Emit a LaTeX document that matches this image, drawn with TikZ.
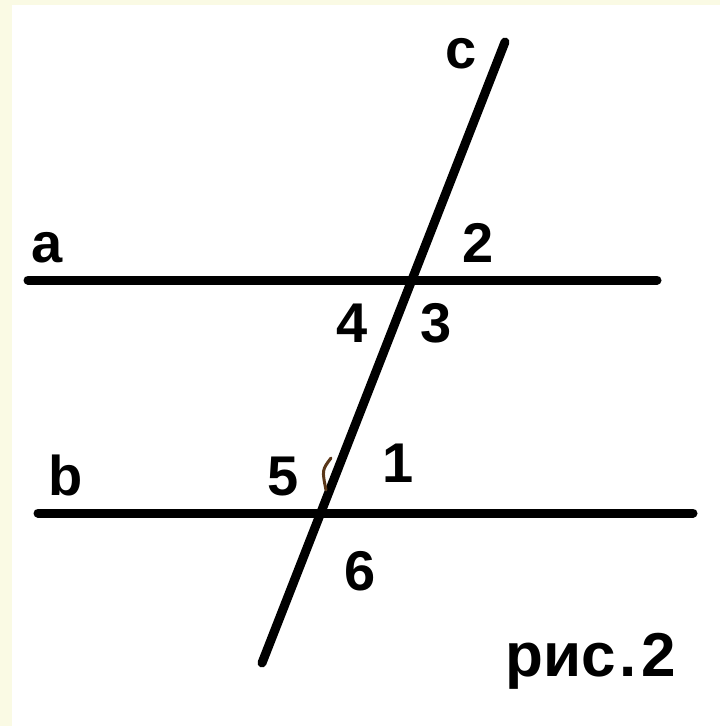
\documentclass[tikz,border=0pt]{standalone}
\usepackage{fontspec}
\setmainfont{Liberation Sans}
\usetikzlibrary{calc}
\definecolor{cream}{RGB}{250,250,228}
\definecolor{markbrown}{RGB}{90,55,25}

\begin{document}
\begin{tikzpicture}[
  x=1pt, y=-1pt,
  line/.style = {line width=9pt, line cap=round},
  lbl/.style  = {font=\fontsize{56}{60}\selectfont\bfseries, anchor=base, inner sep=0pt},
]
  % background: cream strip on the left and top, white sheet
  \fill[cream] (0,0) rectangle (720,726);
  \fill[white] (12,5) rectangle (720,726);
  \useasboundingbox (0,0) rectangle (720,726);

  \coordinate (aL) at (28,280);
  \coordinate (aR) at (657,280);
  \coordinate (bL) at (38,513);
  \coordinate (bR) at (693,513);
  \coordinate (cT) at (505,42);
  \coordinate (cB) at (262,663);

  \draw[line] (aL) -- (aR);
  \draw[line] (bL) -- (bR);
  \draw[line] (cT) -- (cB);

  \node[lbl] (la) at (47,262) {a};
  \node[lbl] (lb) at (66,495) {b};
  \node[lbl] (lc) at (461,68) {c};
  \node[lbl] (l2) at (478,262) {2};
  \node[lbl] (l4) at (352,342) {4};
  \node[lbl] (l3) at (436,342) {3};
  \node[lbl] (l5) at (283,495) {5};
  \node[lbl] (l1) at (398,482) {1};
  \node[lbl] (l6) at (360,590) {6};
  \node[lbl, font=\fontsize{62}{66}\selectfont\bfseries] (cap) at (591,676) {рис\kern3pt.\kern5pt 2};

  % small angle mark at 5
  \draw[markbrown, line width=3pt, line cap=round] (331,458) .. controls (322,470) .. (326,490);
\end{tikzpicture}
\end{document}
